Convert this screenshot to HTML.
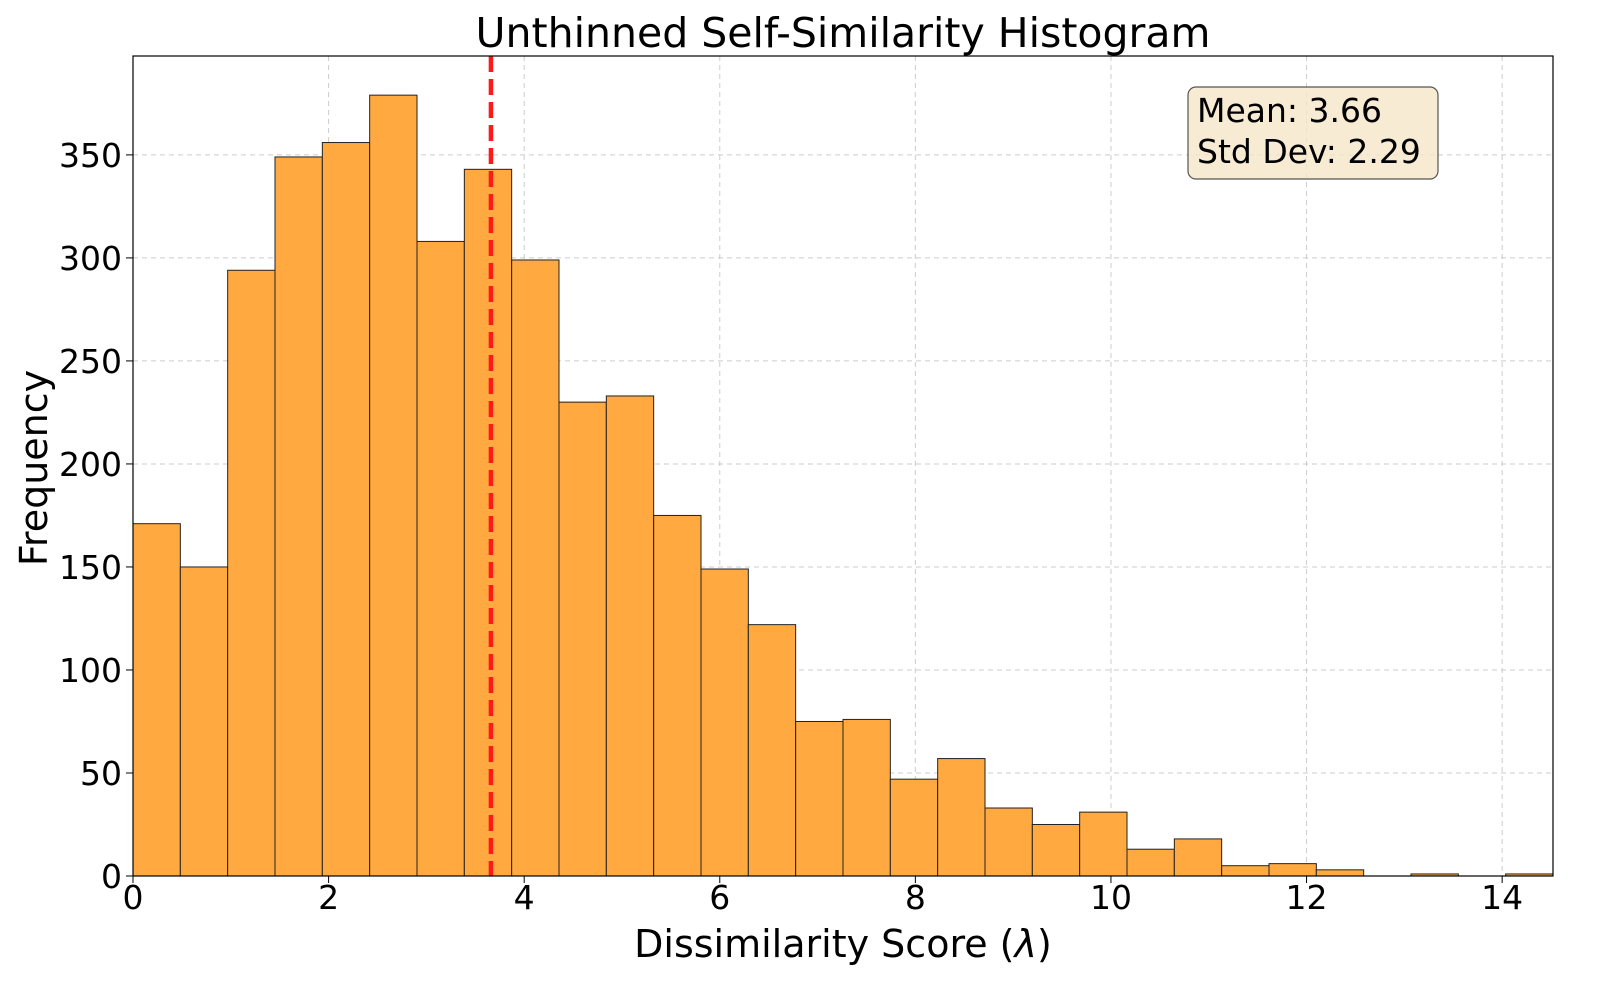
<!DOCTYPE html>
<html><head><meta charset="utf-8"><style>
body{margin:0;background:#fff;}
svg text{font-family:"DejaVu Sans","Liberation Sans",sans-serif;}
</style></head><body>
<svg id="chart" width="1600" height="1000" xmlns="http://www.w3.org/2000/svg">
<g id="grid"></g>
<g id="bars"></g>
<g id="axes"></g>
<text x="843" y="47" font-size="41" text-anchor="middle">Unthinned Self-Similarity Histogram</text>
<text x="843" y="957" font-size="38" text-anchor="middle">Dissimilarity Score (<tspan font-style="italic">λ</tspan>)</text>
<text transform="translate(47,468) rotate(-90)" font-size="38" text-anchor="middle">Frequency</text>
<g>
<rect x="1188" y="87" width="250" height="92" rx="8" fill="#f5e6c8" fill-opacity="0.8" stroke="#555" stroke-width="1.2"/>
<text x="1197" y="122" font-size="33">Mean: 3.66</text>
<text x="1197" y="163" font-size="33">Std Dev: 2.29</text>
</g>
</svg>
<script>
const binStart = 0, binWidth = 0.484;
const counts = [171,150,294,349,356,379,308,343,299,230,233,175,149,122,75,76,47,57,33,25,31,13,18,5,6,3,0,1,0,1];
const xTicks = [0,2,4,6,8,10,12,14];
const yTicks = [0,50,100,150,200,250,300,350];
const meanValue = 3.66;
const L=133,R=1553,T=56,B=876,xMax=14.52,yMax=398;
const xs=v=>L+(v/xMax)*(R-L), ys=v=>B-(v/yMax)*(B-T);
const NS="http://www.w3.org/2000/svg";
function mk(parent,tag,attrs){const e=document.createElementNS(NS,tag);for(const k in attrs)e.setAttribute(k,attrs[k]);document.getElementById(parent).appendChild(e);return e;}
yTicks.forEach(t=>{const l=mk('grid','line',{x1:L,x2:R,y1:ys(t),y2:ys(t),stroke:'#ccc','stroke-dasharray':'5,4','stroke-width':1});

});
xTicks.forEach(t=>{const l=mk('grid','line',{x1:xs(t),x2:xs(t),y1:T,y2:B,stroke:'#ccc','stroke-dasharray':'5,4','stroke-width':1});

});
counts.forEach((c,i)=>{if(c<=0)return;const x0=xs(binStart+i*binWidth),x1=xs(binStart+(i+1)*binWidth);
const r=mk('bars','rect',{x:x0,y:ys(c),width:x1-x0,height:B-ys(c),fill:'#ffa940',stroke:'#222','stroke-width':1});

});
const m=mk('axes','line',{x1:xs(meanValue),x2:xs(meanValue),y1:T,y2:B,stroke:'#ff1a1a','stroke-width':4.5,'stroke-dasharray':'16,7'});


const fr=mk('axes','rect',{x:L,y:T,width:R-L,height:B-T,fill:'none',stroke:'#000','stroke-width':1.2});


xTicks.forEach(t=>{mk('axes','line',{x1:xs(t),x2:xs(t),y1:B,y2:B+7,stroke:'#000'});
const tx=mk('axes','text',{x:xs(t),y:B+33,'font-size':33,'text-anchor':'middle'});tx.textContent=t;

});
yTicks.forEach(t=>{mk('axes','line',{x1:L-7,x2:L,y1:ys(t),y2:ys(t),stroke:'#000'});
const tx=mk('axes','text',{x:L-11,y:ys(t)+12,'font-size':33,'text-anchor':'end'});tx.textContent=t;

});
</script>
</body></html>
